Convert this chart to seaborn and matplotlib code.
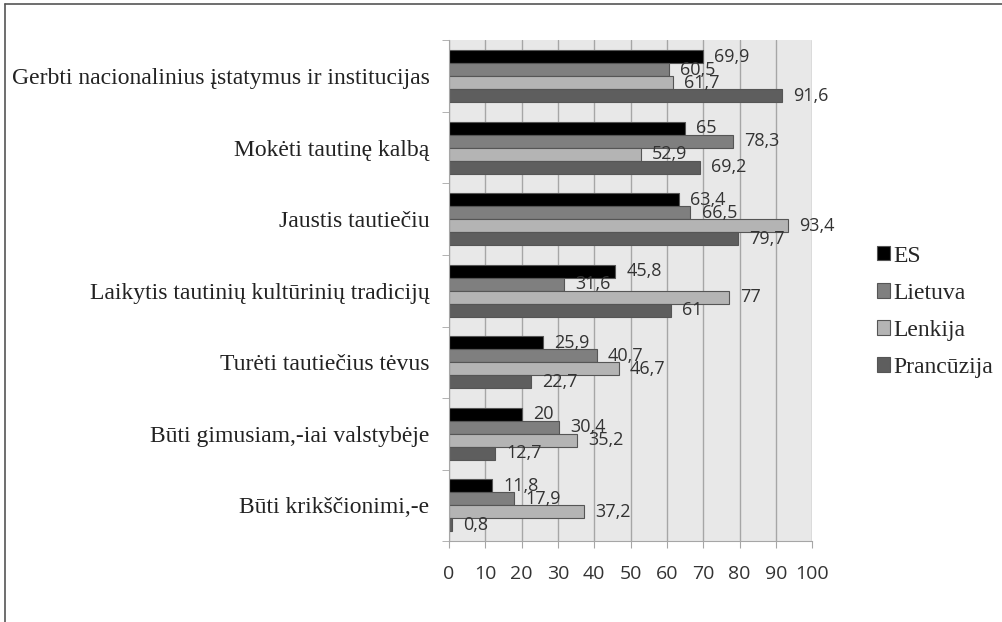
import pandas as pd
import matplotlib.pyplot as plt
import seaborn as sns

categories = [
    'Gerbti nacionalinius įstatymus ir institucijas',
    'Mokėti tautinę kalbą',
    'Jaustis tautiečiu',
    'Laikytis tautinių kultūrinių tradicijų',
    'Turėti tautiečius tėvus',
    'Būti gimusiam,-iai valstybėje',
    'Būti krikščionimi,-e',
]
es = [69.9, 65, 63.4, 45.8, 25.9, 20, 11.8]
lietuva = [60.5, 78.3, 66.5, 31.6, 40.7, 30.4, 17.9]
lenkija = [61.7, 52.9, 93.4, 77, 46.7, 35.2, 37.2]
prancuzija = [91.6, 69.2, 79.7, 61, 22.7, 12.7, 0.8]

series = {'ES': es, 'Lietuva': lietuva, 'Lenkija': lenkija, 'Prancūzija': prancuzija}
colors = ['#000000', '#7f7f7f', '#b4b4b4', '#5e5e5e']

rows = []
for name, vals in series.items():
    for cat, v in zip(categories, vals):
        rows.append({'kategorija': cat, 'serija': name, 'reiksme': v})
df = pd.DataFrame(rows)

sns.set_style('white')
fig = plt.figure(figsize=(10.03, 6.22), dpi=100)
ax = fig.add_axes([0.4477, 0.13, 0.362, 0.805])
ax.set_facecolor('#e8e8e8')

sns.barplot(data=df, y='kategorija', x='reiksme', hue='serija', order=categories,
            hue_order=list(series.keys()), palette=colors, orient='h', width=0.73,
            edgecolor='#555555', linewidth=0.8, ax=ax, legend=True)

for cont in ax.containers:
    labels = [('%g' % v).replace('.', ',') for v in cont.datavalues]
    ax.bar_label(cont, labels=labels, padding=8, fontsize=13, color='#333333',
                 family='Open Sans')

ax.set_xlim(0, 100)
ax.set_xticks(range(0, 101, 10))
ax.set_xlabel('')
ax.set_ylabel('')
ax.xaxis.grid(True, color='#a6a6a6', linewidth=1)
ax.set_axisbelow(True)
ax.set_yticks([i - 0.5 for i in range(len(categories) + 1)], minor=True)
ax.tick_params(axis='y', which='major', length=0, labelsize=17, pad=14)
ax.tick_params(axis='y', which='minor', length=5, color='#a6a6a6', direction='out', left=True)
ax.tick_params(axis='x', length=5, color='#a6a6a6', direction='out', labelsize=14,
               labelcolor='#333333', pad=12, bottom=True)
for lab in ax.get_yticklabels():
    lab.set_family('Liberation Serif')
    lab.set_color('#222222')
for lab in ax.get_xticklabels():
    lab.set_family('Open Sans')
for side in ['top', 'right']:
    ax.spines[side].set_visible(False)
for side in ['left', 'bottom']:
    ax.spines[side].set_color('#a6a6a6')

ax.legend(loc='center left', bbox_to_anchor=(1.12, 0.458), frameon=False,
          prop={'family': 'Liberation Serif', 'size': 17}, handlelength=0.55,
          handleheight=0.55, handletextpad=0.15, labelspacing=0.68)

fig.add_artist(plt.Line2D([0.005, 1], [0.993, 0.993], color='#555555', linewidth=1.2,
                          transform=fig.transFigure))
fig.add_artist(plt.Line2D([0.005, 0.005], [0, 0.993], color='#555555', linewidth=1.2,
                          transform=fig.transFigure))

fig.savefig('out.png', dpi=100)
